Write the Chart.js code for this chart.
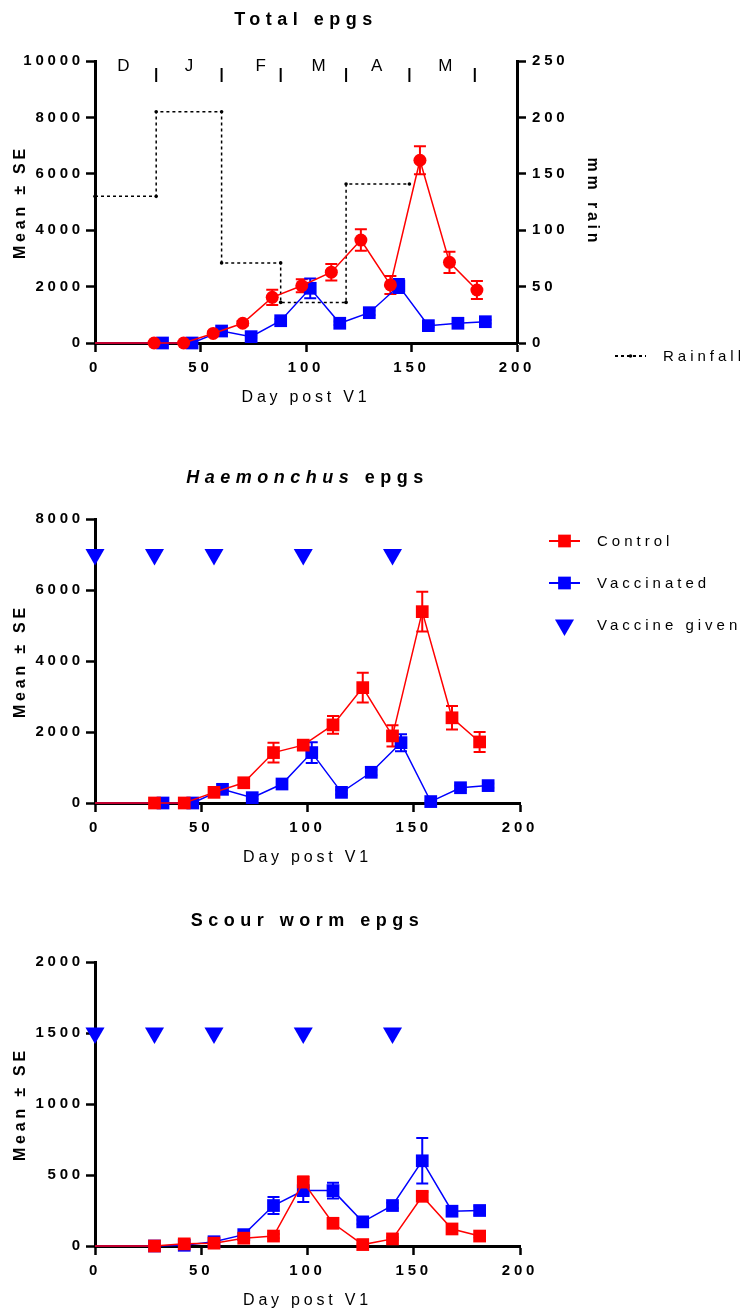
<!DOCTYPE html>
<html>
<head>
<meta charset="utf-8">
<title>Faecal egg counts</title>
<script src="https://cdn.jsdelivr.net/npm/chart.js@4.4.1/dist/chart.umd.min.js"></script>
<style>
  body { margin: 0; background: #fff; }
  .page { position: relative; width: 740px; height: 1313px; }
  .page canvas { position: absolute; left: 0; }
</style>
</head>
<body>
<div class="page">
  <canvas id="total" width="740" height="440" style="top:0"></canvas>
  <canvas id="haemonchus" width="740" height="440" style="top:440px"></canvas>
  <canvas id="scour" width="740" height="433" style="top:880px"></canvas>
</div>
<script>
const FONT = '"Liberation Sans", Arial, sans-serif';
const RED = "#ff0000";
const BLUE = "#0000ff";

// sampling days; the vaccinated group is nudged 4 days right in the first two panels
const controlDays = [0, 28, 42, 56, 70, 84, 98, 112, 126, 140, 154, 168, 181];
const vaccinatedDays = [0, 32, 46, 60, 74, 88, 102, 116, 130, 144, 158, 172, 185];
const vaccineDays = [0, 28, 56, 98, 140];

// Total epgs (mean and SE)
const totalControl = [0, 0, 0, 340, 700, 1620, 2030, 2510, 3650, 2060, 6480, 2860, 1880];
const totalControlSe = [0, 0, 0, 60, 80, 270, 230, 290, 380, 320, 500, 380, 320];
const totalVaccinated = [0, 0, 0, 425, 225, 790, 1940, 700, 1075, 2020, 615, 700, 755];
const totalVaccinatedSe = [0, 0, 0, 40, 40, 60, 350, 60, 80, 250, 60, 60, 60];

// Haemonchus epgs
const haemControl = [0, 0, 0, 300, 570, 1420, 1630, 2200, 3250, 1890, 5390, 2400, 1720];
const haemControlSe = [0, 0, 0, 40, 60, 280, 100, 250, 420, 300, 560, 330, 280];
const haemVaccinated = [0, 0, 0, 385, 150, 535, 1420, 300, 865, 1700, 40, 430, 490];
const haemVaccinatedSe = [0, 0, 0, 40, 40, 60, 290, 60, 80, 240, 20, 60, 60];

// Scour worm epgs (both groups on the same days)
const scourControl = [0, 0, 15, 20, 55, 70, 450, 160, 10, 50, 350, 120, 70];
const scourControlSe = [0, 0, 5, 5, 10, 15, 40, 20, 5, 10, 30, 15, 10];
const scourVaccinated = [0, 0, 5, 30, 80, 285, 390, 390, 170, 285, 600, 245, 250];
const scourVaccinatedSe = [0, 0, 0, 10, 10, 60, 80, 55, 15, 20, 160, 25, 30];

// monthly rainfall (mm); months begin on these days after V1
const monthStarts = [0, 29, 60, 88, 119, 149, 180];
const monthNames = ["D", "J", "F", "M", "A", "M"];
const monthLabelDays = [13.5, 44.5, 78.5, 106, 133.5, 166];
const rainfall = [130, 205, 71, 36, 141];

const xTicks = [0, 50, 100, 150, 200];

function points(days, values) {
  return days.map((d, i) => ({ x: d, y: values[i] }));
}

function rainSteps() {
  const pts = [];
  rainfall.forEach((mm, i) => {
    pts.push({ x: monthStarts[i], y: mm }, { x: monthStarts[i + 1], y: mm });
  });
  return pts;
}

function series(label, color, days, values, errors, pointStyle, radius) {
  return {
    label,
    data: points(days, values),
    errors,
    borderColor: color,
    backgroundColor: color,
    borderWidth: 1.5,
    pointStyle,
    // day 0 is only the start of the line
    pointRadius: (ctx) => (ctx.dataIndex === 0 ? 0 : radius),
    pointBorderWidth: 0,
    clip: false,
  };
}

function vaccineMarks(level) {
  return {
    label: "Vaccine given",
    data: vaccineDays.map((d) => ({ x: d, y: level })),
    showLine: false,
    borderColor: BLUE,
    backgroundColor: BLUE,
    pointStyle: "triangle",
    rotation: 180,
    pointRadius: 11,
    pointBorderWidth: 0,
    clip: false,
  };
}

// vertical SE bars with caps, under the markers
const errorBars = {
  id: "errorBars",
  beforeDatasetsDraw(chart) {
    const { ctx } = chart;
    chart.data.datasets.forEach((ds, i) => {
      if (!ds.errors) return;
      const yScale = chart.scales[chart.getDatasetMeta(i).yAxisID];
      ctx.save();
      ctx.strokeStyle = ds.borderColor;
      ctx.lineWidth = 2;
      ds.data.forEach((p, j) => {
        const se = ds.errors[j];
        if (!se) return;
        const x = chart.scales.x.getPixelForValue(p.x);
        const top = yScale.getPixelForValue(p.y + se);
        const bottom = yScale.getPixelForValue(p.y - se);
        ctx.beginPath();
        ctx.moveTo(x, top);
        ctx.lineTo(x, bottom);
        ctx.moveTo(x - 6, top);
        ctx.lineTo(x + 6, top);
        ctx.moveTo(x - 6, bottom);
        ctx.lineTo(x + 6, bottom);
        ctx.stroke();
      });
      ctx.restore();
    });
  },
};

// heading above the plot area; parts may be italic
const panelTitle = {
  id: "panelTitle",
  afterDraw(chart, args, opts) {
    if (!opts.parts) return;
    const { ctx, chartArea } = chart;
    ctx.save();
    ctx.letterSpacing = "5.5px";
    ctx.fillStyle = "#000";
    ctx.textAlign = "left";
    ctx.textBaseline = "middle";
    const fonts = opts.parts.map((p) => (p.italic ? "italic " : "") + "bold 18px " + FONT);
    let width = 0;
    opts.parts.forEach((p, i) => {
      ctx.font = fonts[i];
      width += ctx.measureText(p.text).width;
    });
    let x = (chartArea.left + chartArea.right) / 2 - width / 2;
    const y = chartArea.top - 41;
    opts.parts.forEach((p, i) => {
      ctx.font = fonts[i];
      ctx.fillText(p.text, x, y);
      x += ctx.measureText(p.text).width;
    });
    ctx.restore();
  },
};

// legend entries drawn from the datasets: line sample, marker, label
const sideLegend = {
  id: "sideLegend",
  afterDraw(chart, args, opts) {
    if (!opts.show) return;
    const { ctx } = chart;
    ctx.save();
    ctx.font = "15px " + FONT;
    ctx.letterSpacing = "4px";
    ctx.textAlign = "left";
    ctx.textBaseline = "middle";
    let y = opts.top;
    chart.data.datasets.forEach((ds) => {
      if (!opts.show.includes(ds.label)) return;
      const x0 = opts.left;
      const x1 = opts.left + 31;
      const xm = (x0 + x1) / 2;
      ctx.strokeStyle = ds.borderColor;
      ctx.fillStyle = ds.backgroundColor;
      if (ds.showLine !== false) {
        ctx.lineWidth = ds.borderWidth + 0.5;
        ctx.setLineDash(ds.borderDash || []);
        ctx.beginPath();
        ctx.moveTo(x0, y);
        ctx.lineTo(x1, y);
        ctx.stroke();
        ctx.setLineDash([]);
      }
      const radius = typeof ds.pointRadius === "function" ? ds.pointRadius({ dataIndex: 1 }) : ds.pointRadius;
      Chart.helpers.drawPoint(ctx, { pointStyle: ds.pointStyle, rotation: ds.rotation || 0, radius, borderWidth: 0 }, xm, y);
      ctx.fillStyle = "#000";
      ctx.fillText(ds.label, opts.left + 48, y + 1);
      y += opts.gap;
    });
    ctx.restore();
  },
};

// month letters and boundaries along the top of the rainfall panel
const monthMarks = {
  id: "monthMarks",
  afterDatasetsDraw(chart) {
    const { ctx, chartArea } = chart;
    const x = chart.scales.x;
    ctx.save();
    ctx.letterSpacing = "0px";
    ctx.font = "17px " + FONT;
    ctx.fillStyle = "#000";
    ctx.textAlign = "center";
    ctx.textBaseline = "middle";
    monthNames.forEach((m, i) => ctx.fillText(m, x.getPixelForValue(monthLabelDays[i]), chartArea.top + 5));
    ctx.strokeStyle = "#000";
    ctx.lineWidth = 2;
    monthStarts.slice(1).forEach((d) => {
      const px = x.getPixelForValue(d);
      ctx.beginPath();
      ctx.moveTo(px, chartArea.top + 7);
      ctx.lineTo(px, chartArea.top + 21);
      ctx.stroke();
    });
    ctx.restore();
  },
};

// GraphPad-style wide lettering for axis text
const spacedText = {
  id: "spacedText",
  beforeDraw(chart) {
    chart.ctx.letterSpacing = "3.8px";
  },
};

const tickFont = { family: FONT, size: 15, weight: "bold" };

function xAxis() {
  return {
    type: "linear",
    min: 0,
    max: 200,
    afterBuildTicks: (scale) => {
      scale.ticks = xTicks.map((v) => ({ value: v }));
    },
    ticks: { color: "#000", padding: 7, font: tickFont, callback: (v) => String(v) },
    grid: { drawOnChartArea: false, tickLength: 9, tickWidth: 2.5, tickColor: "#000" },
    border: { color: "#000", width: 3 },
    title: {
      display: true,
      text: "Day post V1",
      color: "#000",
      font: { family: FONT, size: 16, lineHeight: 1 },
      padding: { top: 0, bottom: 0 },
    },
    afterFit: (scale) => {
      scale.height = 63;
    },
  };
}

function yAxis(max, step, position, title, titlePad, width) {
  return {
    type: "linear",
    position,
    min: 0,
    max,
    ticks: { stepSize: step, color: "#000", padding: position === "left" ? 2 : 6, font: tickFont, callback: (v) => String(v) },
    grid: { drawOnChartArea: false, tickLength: 9, tickWidth: 2.5, tickColor: "#000" },
    border: { color: "#000", width: 3 },
    title: {
      display: true,
      text: title,
      color: "#000",
      font: { family: FONT, size: 16, weight: "bold", lineHeight: 1 },
      padding: { top: titlePad, bottom: 0 },
    },
    afterFit: (scale) => {
      scale.width = width;
    },
  };
}

Chart.defaults.font.family = FONT;
Chart.defaults.color = "#000";

function panel(id, datasets, scales, padding, pluginOptions, extraPlugins) {
  return new Chart(document.getElementById(id), {
    type: "line",
    data: { datasets },
    options: {
      responsive: false,
      animation: false,
      events: [],
      layout: { padding },
      scales,
      plugins: Object.assign({ legend: { display: false }, tooltip: { enabled: false } }, pluginOptions),
    },
    plugins: [spacedText, errorBars, panelTitle, sideLegend].concat(extraPlugins || []),
  });
}

panel(
  "total",
  [
    Object.assign(series("Control", RED, controlDays, totalControl, totalControlSe, "circle", 6.5), { yAxisID: "y" }),
    Object.assign(series("Vaccinated", BLUE, vaccinatedDays, totalVaccinated, totalVaccinatedSe, "rect", 9), { yAxisID: "y" }),
    {
      label: "Rainfall",
      yAxisID: "y2",
      data: rainSteps(),
      borderColor: "#000",
      backgroundColor: "#000",
      borderWidth: 1.5,
      borderDash: [3, 3],
      pointStyle: "circle",
      pointRadius: 1.8,
      pointBorderWidth: 0,
      clip: false,
    },
  ],
  {
    x: xAxis(),
    y: yAxis(10000, 2000, "left", "Mean \u00b1 SE", 13, 95),
    y2: yAxis(250, 50, "right", "mm rain", 7, 90),
  },
  { top: 61, left: 0, right: 133, bottom: 34 },
  {
    panelTitle: { parts: [{ text: "Total epgs" }] },
    sideLegend: { show: ["Rainfall"], left: 615, top: 356, gap: 42 },
  },
  [monthMarks]
);

panel(
  "haemonchus",
  [
    series("Control", RED, controlDays, haemControl, haemControlSe, "rect", 9),
    series("Vaccinated", BLUE, vaccinatedDays, haemVaccinated, haemVaccinatedSe, "rect", 9),
    vaccineMarks(7000),
  ],
  {
    x: xAxis(),
    y: yAxis(8000, 2000, "left", "Mean \u00b1 SE", 13, 95),
  },
  { top: 79, left: 0, right: 220, bottom: 14 },
  {
    panelTitle: { parts: [{ text: "Haemonchus", italic: true }, { text: " epgs" }] },
    sideLegend: { show: ["Control", "Vaccinated", "Vaccine given"], left: 549, top: 101, gap: 42 },
  }
);

panel(
  "scour",
  [
    series("Control", RED, controlDays, scourControl, scourControlSe, "rect", 9),
    series("Vaccinated", BLUE, controlDays, scourVaccinated, scourVaccinatedSe, "rect", 9),
    vaccineMarks(1500),
  ],
  {
    x: xAxis(),
    y: yAxis(2000, 500, "left", "Mean \u00b1 SE", 13, 95),
  },
  { top: 82, left: 0, right: 220, bottom: 4 },
  {
    panelTitle: { parts: [{ text: "Scour worm epgs" }] },
  }
);
</script>
</body>
</html>
